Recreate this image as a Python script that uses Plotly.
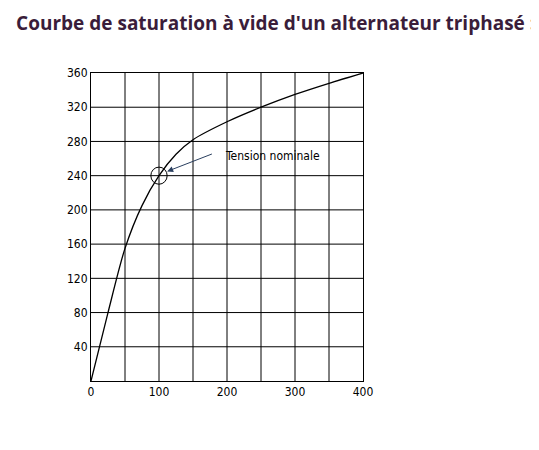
import plotly.graph_objects as go

# courbe E0 = f(J)
courant = [0, 25, 50, 75, 100, 125, 150, 200, 250, 300, 350, 400]
tension = [0, 80, 155, 205, 240, 265, 282, 303, 320, 335, 348, 360]
x_ticks = [0, 100, 200, 300, 400]
y_ticks = [40, 80, 120, 160, 200, 240, 280, 320, 360]

font = "Liberation Sans Narrow, DejaVu Sans Condensed, Arial Narrow"

fig = go.Figure()
fig.add_trace(go.Scatter(x=courant, y=tension, mode="lines",
                         line=dict(color="black", width=1.3, shape="spline", smoothing=0.8),
                         cliponaxis=False, showlegend=False))

# point nominal
fig.add_shape(type="circle", xref="x", yref="y", x0=100 - 12, x1=100 + 12, y0=240 - 10, y1=240 + 10,
              line=dict(color="black", width=1))

ann = [
    dict(x=194, y=263, text="Tension nominale", showarrow=False, xanchor="left"),
    dict(x=112, y=245, ax=180, ay=266, xref="x", yref="y", axref="x", ayref="y",
         showarrow=True, arrowhead=2, arrowsize=1.2, arrowwidth=1, text=""),
    dict(x=-51, y=249, ax=-51, ay=138, xref="x", yref="y", axref="x", ayref="y",
         showarrow=True, arrowhead=2, arrowsize=1.2, arrowwidth=1, text=""),
    dict(x=260, y=-29, ax=113, ay=-29, xref="x", yref="y", axref="x", ayref="y",
         showarrow=True, arrowhead=2, arrowsize=1.2, arrowwidth=1, text=""),
    dict(x=-100, y=195, text="Tension de sortie", textangle=-90, showarrow=False),
    dict(x=-70, y=197, text="E<sub>0</sub>", showarrow=False),
    dict(x=2, y=367, text="V", showarrow=False, yanchor="bottom"),
    dict(x=420, y=-15, text="mA", showarrow=False),
    dict(x=198, y=-42, text="J", showarrow=False),
    dict(x=205, y=-70, text="Courant d\u2019excitation", showarrow=False),
]
for a in ann:
    a.setdefault("xref", "x")
    a.setdefault("yref", "y")
    a["font"] = dict(family=font, size=12, color="black")
fig.update_layout(annotations=ann)

fig.update_layout(
    width=539, height=450,
    margin=dict(l=83, r=184, t=65, b=77),
    plot_bgcolor="white", paper_bgcolor="white",
    title=dict(text="<b>Courbe de saturation à vide d'un alternateur triphasé :</b>",
               x=0.015, xanchor="left", y=0.965, yanchor="middle",
               font=dict(family="Open Sans", size=19, color="#3a1d3a")),
    xaxis=dict(range=[0, 400], tickvals=x_ticks, dtick=50, showgrid=False,
               showline=True, linecolor="black", mirror=True, ticks="",
               tickfont=dict(family=font, size=12, color="black")),
    yaxis=dict(range=[0, 360], tickvals=y_ticks, showgrid=False,
               showline=True, linecolor="black", mirror=True, ticks="",
               tickfont=dict(family=font, size=12, color="black")),
)
# grille tous les 50 mA et 40 V
for gx in range(50, 400, 50):
    fig.add_shape(type="line", xref="x", yref="y", x0=gx, x1=gx, y0=0, y1=360,
                  line=dict(color="black", width=1), layer="below")
for gy in y_ticks[:-1]:
    fig.add_shape(type="line", xref="x", yref="y", x0=0, x1=400, y0=gy, y1=gy,
                  line=dict(color="black", width=1), layer="below")

fig.write_html("out.html")
